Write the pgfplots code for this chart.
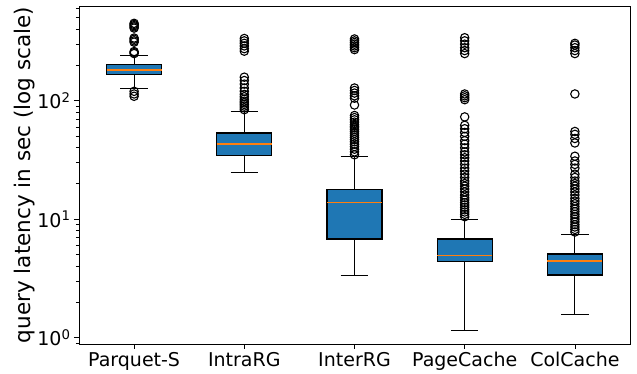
\documentclass[border=0pt]{standalone}
\usepackage{pgfplots}
\pgfplotsset{compat=1.18}
\usepgfplotslibrary{statistics}
\usetikzlibrary{calc}
\usepackage{fontspec}
\setmainfont{DejaVu Sans}
\definecolor{mplblue}{HTML}{1F77B4}
\definecolor{mplorange}{HTML}{FF7F0E}
\begin{document}
\begin{tikzpicture}
\begin{axis}[
  scale only axis, width=551pt, height=338pt,
  ymode=log, ymin=0.885, ymax=630,
  xmin=0.5, xmax=5.5,
  xtick={1,2,3,4,5},
  xticklabels={Parquet-S,IntraRG,InterRG,PageCache,ColCache},
  ytick={1,10,100},
  yticklabels={10\textsuperscript{0},10\textsuperscript{1},10\textsuperscript{2}},
  minor ytick={0.9,2,3,4,5,6,7,8,9,20,30,40,50,60,70,80,90,200,300,400,500,600},
  tick align=outside, tick pos=left,
  major tick length=5pt, minor tick length=3pt,
  every tick/.style={black, line width=0.8pt},
  axis line style={black, line width=0.8pt},
  tick label style={font=\fontsize{19}{21}\selectfont},
  ylabel={query latency in sec (log scale)},
  every axis y label/.style={at={(rel axis cs:0,0.5)}, rotate=90, anchor=center, yshift=54pt, font=\fontsize{21.5}{24}\selectfont},
  boxplot/draw direction=y,
  boxplot/box extend=0.5,
  boxplot/whisker extend=0.25,
  boxplot/every median/.style={draw=mplorange, line width=1.7pt},
  boxplot/every box/.style={draw=black, fill=mplblue, line width=1.3pt},
  boxplot/every whisker/.style={draw=black, line width=1pt},
  clip=false,
]
\coordinate (ll) at (rel axis cs:0,0);
\coordinate (ur) at (rel axis cs:1,1);
\addplot[boxplot prepared={draw position=1, lower whisker=128, lower quartile=167, median=182, upper quartile=201, upper whisker=239}] coordinates {};
\addplot[boxplot prepared={draw position=2, lower whisker=24.6, lower quartile=34.5, median=43.2, upper quartile=53.4, upper whisker=81.8}] coordinates {};
\addplot[boxplot prepared={draw position=3, lower whisker=3.34, lower quartile=6.8, median=13.8, upper quartile=17.9, upper whisker=34}] coordinates {};
\addplot[boxplot prepared={draw position=4, lower whisker=1.15, lower quartile=4.38, median=4.95, upper quartile=6.79, upper whisker=10.0}] coordinates {};
\addplot[boxplot prepared={draw position=5, lower whisker=1.56, lower quartile=3.38, median=4.46, upper quartile=5.08, upper whisker=7.48}] coordinates {};
% outliers
\addplot[only marks, mark=o, mark size=4.2pt, black, line width=1.1pt] coordinates {
(1,109) (1,114) (1,120) (1,250) (1,255) (1,260) (1,312) (1,320) (1,330) (1,338)
(1,410) (1,420) (1,430) (1,440) (1,450)
(2,84) (2,87) (2,90) (2,93) (2,96) (2,99) (2,103) (2,108) (2,113) (2,120) (2,128)
(2,138) (2,148) (2,158) (2,262) (2,275) (2,290) (2,305) (2,320) (2,335)
(3,35) (3,37) (3,39) (3,41) (3,43) (3,45) (3,47) (3,49) (3,51) (3,53) (3,55) (3,57)
(3,59) (3,61) (3,63) (3,66) (3,69) (3,72) (3,75) (3,92) (3,105) (3,110) (3,116)
(3,122) (3,128) (3,270) (3,280) (3,290) (3,300) (3,310) (3,320) (3,332)
(4,10.5) (4,11) (4,11.5) (4,12) (4,12.6) (4,13.2) (4,13.8) (4,14.5) (4,15.2) (4,16)
(4,17) (4,18) (4,19) (4,20) (4,21) (4,22.5) (4,24) (4,25.5) (4,27) (4,29) (4,31)
(4,33) (4,35) (4,37) (4,40) (4,43) (4,46) (4,50) (4,54) (4,58) (4,62) (4,73)
(4,102) (4,106) (4,110) (4,114) (4,250) (4,265) (4,280) (4,300) (4,320) (4,340)
(5,7.8) (5,8.2) (5,8.6) (5,9) (5,9.5) (5,10) (5,10.5) (5,11) (5,11.6) (5,12.2)
(5,12.8) (5,13.5) (5,14.2) (5,15) (5,16) (5,17) (5,18) (5,19) (5,20) (5,21)
(5,22.5) (5,24) (5,27) (5,29) (5,31) (5,34) (5,44) (5,48) (5,52) (5,55) (5,114)
(5,250) (5,265) (5,280) (5,295) (5,305)
};
\end{axis}
\pgfresetboundingbox
\path ($(ll)+(-79pt,-30pt)$) rectangle ($(ur)+(7pt,6pt)$);
\end{tikzpicture}
\end{document}
